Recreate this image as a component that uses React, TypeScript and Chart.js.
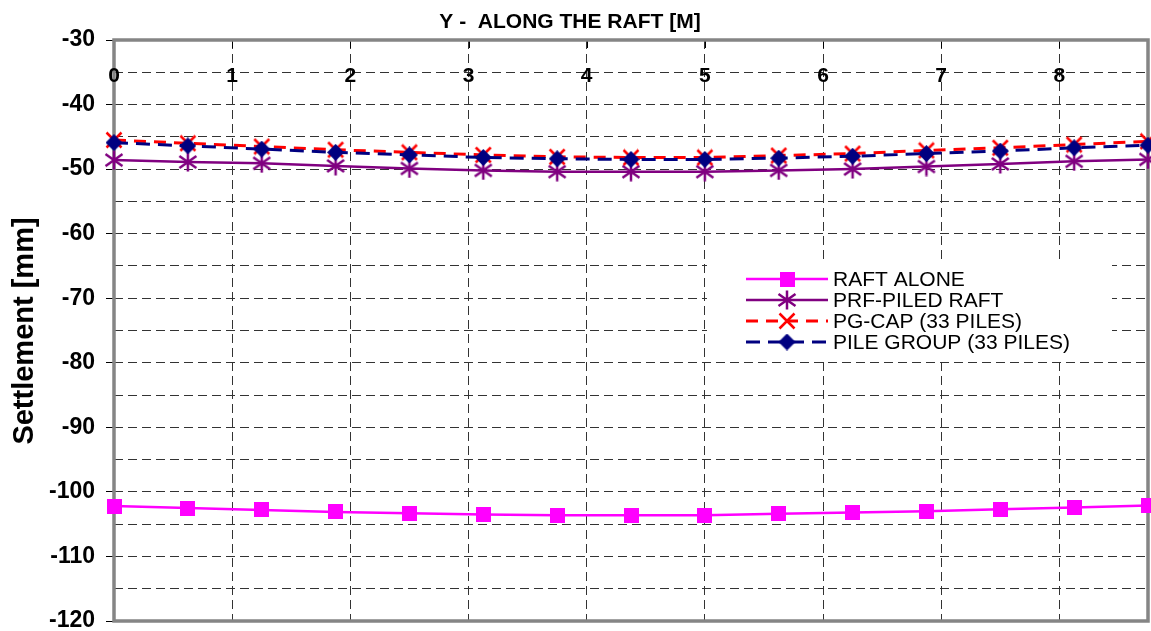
import React, { useEffect, useRef } from "react";
import { Chart, registerables } from "chart.js";

Chart.register(...registerables);

const xPositions = [0, 0.625, 1.25, 1.875, 2.5, 3.125, 3.75, 4.375, 5, 5.625, 6.25, 6.875, 7.5, 8.125, 8.75];
const raftAlone = [-102.2, -102.5, -102.8, -103.1, -103.3, -103.5, -103.6, -103.6, -103.6, -103.4, -103.2, -103.0, -102.7, -102.4, -102.1];
const prfPiledRaft = [-48.6, -48.9, -49.1, -49.5, -49.9, -50.2, -50.4, -50.4, -50.4, -50.2, -50.0, -49.6, -49.2, -48.8, -48.5];
const pgCap = [-45.5, -46.0, -46.5, -47.0, -47.4, -47.8, -48.1, -48.2, -48.2, -47.9, -47.6, -47.1, -46.7, -46.2, -45.7];
const pileGroup = [-45.9, -46.4, -46.9, -47.4, -47.8, -48.2, -48.4, -48.5, -48.5, -48.3, -48.0, -47.6, -47.2, -46.7, -46.3];

const seriesNames = ["RAFT ALONE", "PRF-PILED RAFT", "PG-CAP (33 PILES)", "PILE GROUP (33 PILES)"];
const xTicks = [0, 1, 2, 3, 4, 5, 6, 7, 8];
const xTickLabels = ["0", "1", "2", "3", "4", "5", "6", "7", "8"];
const yTicks = [-120, -115, -110, -105, -100, -95, -90, -85, -80, -75, -70, -65, -60, -55, -50, -45, -40, -35, -30];
const yLabelled = [-120, -110, -100, -90, -80, -70, -60, -50, -40, -30];
const chartTitle = "Y -  ALONG THE RAFT [M]";
const yTitle = "Settlement [mm]";

const FONT = "'Liberation Sans', Arial, Helvetica, sans-serif";

function makeCanvas(w: number, h: number, draw: (g: CanvasRenderingContext2D) => void) {
  const c = document.createElement("canvas");
  c.width = w;
  c.height = h;
  const g = c.getContext("2d")!;
  draw(g);
  return c;
}

export default function App() {
  const ref = useRef<HTMLCanvasElement | null>(null);

  useEffect(() => {
    document.body.style.margin = "0";
    const canvas = ref.current!;

    const square = makeCanvas(15, 15, (g) => {
      g.fillStyle = "#FF00FF";
      g.fillRect(0, 0, 15, 15);
    });
    const asterisk = makeCanvas(20, 20, (g) => {
      g.strokeStyle = "#800080";
      g.lineWidth = 2.5;
      g.beginPath();
      g.moveTo(1.5, 4); g.lineTo(18.5, 16);
      g.moveTo(18.5, 4); g.lineTo(1.5, 16);
      g.moveTo(10, 0.5); g.lineTo(10, 19.5);
      g.stroke();
    });
    const xMark = makeCanvas(18, 18, (g) => {
      g.strokeStyle = "#FF0000";
      g.lineWidth = 2.5;
      g.beginPath();
      g.moveTo(1.5, 1.5); g.lineTo(16.5, 16.5);
      g.moveTo(16.5, 1.5); g.lineTo(1.5, 16.5);
      g.stroke();
    });
    const diamond = makeCanvas(17, 17, (g) => {
      g.fillStyle = "#000080";
      g.beginPath();
      g.moveTo(8.5, 0); g.lineTo(17, 8.5); g.lineTo(8.5, 17); g.lineTo(0, 8.5);
      g.closePath();
      g.fill();
    });

    const series = [
      { name: seriesNames[0], values: raftAlone, color: "#FF00FF", width: 2.5, dash: [] as number[], marker: square, order: 3 },
      { name: seriesNames[1], values: prfPiledRaft, color: "#800080", width: 2.5, dash: [] as number[], marker: asterisk, order: 2 },
      { name: seriesNames[2], values: pgCap, color: "#FF0000", width: 3, dash: [12, 8], marker: xMark, order: 1 },
      { name: seriesNames[3], values: pileGroup, color: "#000080", width: 3, dash: [14, 8], marker: diamond, order: 0 },
    ];

    const decor = {
      id: "decor",
      beforeDatasetsDraw(chart: any) {
        const { ctx, chartArea: a, scales } = chart;
        ctx.save();
        ctx.strokeStyle = "#000";
        ctx.lineWidth = 1;
        ctx.setLineDash([]);
        xTicks.forEach((v) => {
          const px = Math.round(scales.x.getPixelForValue(v)) + 0.5;
          ctx.beginPath();
          ctx.moveTo(px, a.top);
          ctx.lineTo(px, a.top + 8);
          ctx.stroke();
        });
        ctx.strokeStyle = "#858585";
        ctx.lineWidth = 3.5;
        ctx.strokeRect(a.left, a.top, a.right - a.left, a.bottom - a.top);
        ctx.fillStyle = "#000";
        ctx.font = `bold 21px ${FONT}`;
        ctx.textAlign = "center";
        ctx.textBaseline = "middle";
        xTicks.forEach((v, i) => {
          ctx.fillText(xTickLabels[i], scales.x.getPixelForValue(v), a.top + 36);
        });
        ctx.restore();
      },
      afterDatasetsDraw(chart: any) {
        const { ctx } = chart;
        ctx.save();
        ctx.fillStyle = "#fff";
        ctx.fillRect(707, 262, 405, 99);
        const rows = [279, 300, 321, 342];
        series.forEach((s, i) => {
          const y = rows[i];
          ctx.strokeStyle = s.color;
          ctx.lineWidth = s.width;
          ctx.setLineDash(s.dash);
          ctx.beginPath();
          ctx.moveTo(746, y);
          ctx.lineTo(828, y);
          ctx.stroke();
          ctx.setLineDash([]);
          ctx.drawImage(s.marker, 787 - s.marker.width / 2, y - s.marker.height / 2);
          ctx.fillStyle = "#000";
          ctx.font = `21px ${FONT}`;
          ctx.textAlign = "left";
          ctx.textBaseline = "middle";
          ctx.fillText(s.name, 833, y + 1);
        });
        ctx.restore();
      },
      afterDraw(chart: any) {
        const { ctx } = chart;
        ctx.save();
        ctx.fillStyle = "#000";
        ctx.font = `bold 21px ${FONT}`;
        ctx.textAlign = "center";
        ctx.textBaseline = "alphabetic";
        ctx.fillText(chartTitle, 570, 28);
        ctx.translate(33, 331);
        ctx.rotate(-Math.PI / 2);
        ctx.font = `bold 29px ${FONT}`;
        ctx.fillText(yTitle, 0, 0);
        ctx.restore();
      },
    };

    const chart = new Chart(canvas, {
      type: "line",
      data: {
        datasets: series.map((s) => ({
          label: s.name,
          data: s.values.map((v, i) => ({ x: xPositions[i], y: v })),
          borderColor: s.color,
          backgroundColor: s.color,
          borderWidth: s.width,
          borderDash: s.dash,
          pointStyle: s.marker as any,
          pointRadius: 8,
          pointHoverRadius: 8,
          tension: 0,
          fill: false,
          clip: false as any,
          order: s.order,
        })),
      },
      options: {
        animation: false,
        responsive: false,
        maintainAspectRatio: false,
        events: [],
        layout: { autoPadding: false, padding: { left: 0, right: 3, top: 0, bottom: 10 } },
        plugins: {
          legend: { display: false },
          title: { display: false },
          tooltip: { enabled: false },
        },
        scales: {
          x: {
            type: "linear",
            position: "top",
            min: 0,
            max: 8.75,
            afterBuildTicks: (scale: any) => {
              scale.ticks = xTicks.map((value) => ({ value }));
            },
            afterFit: (scale: any) => {
              scale.height = 40;
              scale.paddingLeft = 0;
              scale.paddingRight = 0;
            },
            ticks: { display: false },
            grid: { color: "#333", lineWidth: 1, drawTicks: false },
            border: { display: false, dash: [9, 5] },
          },
          y: {
            type: "linear",
            min: -120,
            max: -30,
            afterBuildTicks: (scale: any) => {
              scale.ticks = yTicks.map((value) => ({ value }));
            },
            afterFit: (scale: any) => {
              scale.width = 114;
              scale.paddingTop = 0;
              scale.paddingBottom = 0;
            },
            ticks: {
              color: "#000",
              padding: 11,
              font: { family: FONT, size: 23, weight: "bold", lineHeight: 0.8 },
              callback: (v: any) => (yLabelled.includes(Number(v)) ? String(v) : ""),
            },
            grid: {
              color: (c: any) => (c.tick && (c.tick.value === -30 || c.tick.value === -120) ? "rgba(0,0,0,0)" : "#333"),
              lineWidth: 1,
              drawTicks: true,
              tickLength: 8,
              tickWidth: 1,
              tickColor: (c: any) => (c.tick && yLabelled.includes(c.tick.value) ? "#000" : "rgba(0,0,0,0)"),
            },
            border: { display: false, dash: [9, 5] },
          },
        },
      },
      plugins: [decor],
    });

    return () => chart.destroy();
  }, []);

  return (
    <div style={{ width: 1151, height: 631 }}>
      <canvas ref={ref} width={1151} height={631} style={{ display: "block" }} />
    </div>
  );
}
